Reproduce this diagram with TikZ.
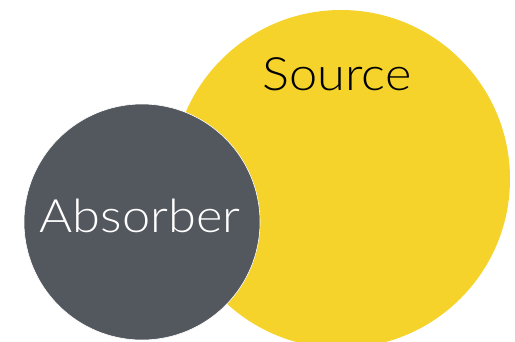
\documentclass[tikz,border=0pt]{standalone}
\usepackage{fontspec}
\setmainfont{Lato}
\newfontfamily\lblfont{Lato Light}[FakeStretch=1.1]
\definecolor{srcyellow}{HTML}{F5D32B}
\definecolor{absgray}{HTML}{53575E}
\begin{document}
\begin{tikzpicture}[x=1pt,y=-1pt,
  circ/.style={circle,inner sep=0pt},
  lbl/.style={font=\lblfont\fontsize{46}{50}\selectfont,inner sep=0pt}]
\useasboundingbox (0,0) rectangle (515,341);
\begin{scope}
\clip (0,0) rectangle (515,341);
\node[circ,fill=srcyellow,minimum size=338pt] (src) at (341,179) {};
\node[circ,fill=absgray,draw=white,line width=0.6pt,minimum size=236pt] (abs) at (142,222) {};
\end{scope}
\node[lbl,text=black] (srclbl) at (337,74) {Source};
\node[lbl,text=white] (abslbl) at (140,216) {Absorber};
\end{tikzpicture}
\end{document}
